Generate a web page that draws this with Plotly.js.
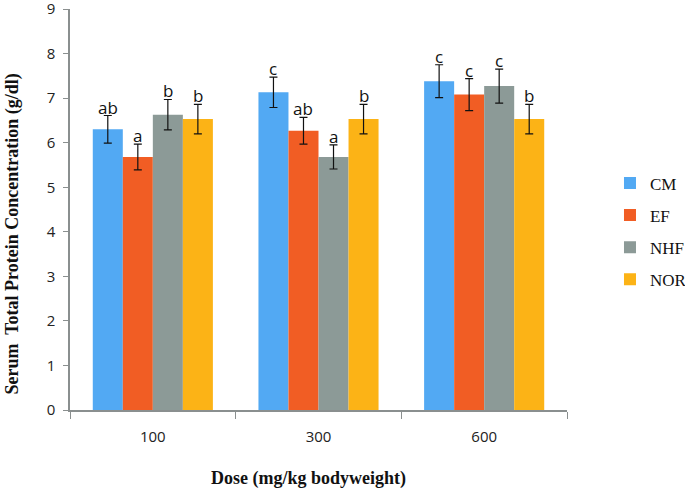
<!DOCTYPE html>
<html><head><meta charset="utf-8">
<script src="https://cdn.plot.ly/plotly-3.0.1.min.js"></script>
<style>html,body{margin:0;padding:0;background:#fff}#c{width:685px;height:488px}</style>
</head><body><div id="c"></div>
<script>
const doses = ['100', '300', '600'];
const seriesNames = ['CM', 'EF', 'NHF', 'NOR'];
const CM  = [6.3, 7.13, 7.38];
const EF  = [5.68, 6.27, 7.08];
const NHF = [6.63, 5.68, 7.27];
const NOR = [6.53, 6.53, 6.53];
const CM_err  = [0.31, 0.34, 0.37];
const EF_err  = [0.29, 0.3, 0.36];
const NHF_err = [0.34, 0.27, 0.38];
const NOR_err = [0.33, 0.33, 0.33];
const CM_lbl  = ['ab', 'c', 'c'];
const EF_lbl  = ['a', 'ab', 'c'];
const NHF_lbl = ['b', 'a', 'c'];
const NOR_lbl = ['b', 'b', 'b'];
const colors = ['#52A9F3', '#F15D24', '#8C9A97', '#FCB316'];

const vals = [CM, EF, NHF, NOR];
const errs = [CM_err, EF_err, NHF_err, NOR_err];
const lbls = [CM_lbl, EF_lbl, NHF_lbl, NOR_lbl];

const bargap = 0.275;
const traces = seriesNames.map((n, i) => ({
  type: 'bar', name: n, x: doses, y: vals[i],
  marker: {color: colors[i]},
  legendgroup: n,
  error_y: {type: 'data', array: errs[i], visible: true, color: '#111', thickness: 1.2, width: 4}
}));

const annotations = [];
const bw = (1 - bargap) / seriesNames.length;
seriesNames.forEach((n, i) => {
  doses.forEach((d, j) => {
    annotations.push({
      x: j - (1 - bargap) / 2 + bw * (i + 0.5), xref: 'x',
      y: vals[i][j] + errs[i][j], yref: 'y',
      text: lbls[i][j], showarrow: false, yanchor: 'bottom', yshift: -5,
      font: {family: 'Open Sans, sans-serif', size: 17, color: '#111'}
    });
  });
});
annotations.push({
  text: '<b>Serum  Total Protein Concentration (g/dl)</b>', textangle: -90,
  xref: 'paper', yref: 'paper', x: -0.115, y: 0.44, xanchor: 'center', yanchor: 'middle',
  showarrow: false, font: {family: 'Liberation Serif, serif', size: 18, color: '#111'}
});
annotations.push({
  text: '<b>Dose (mg/kg bodyweight)</b>',
  xref: 'paper', yref: 'paper', x: 0.48, y: -0.17, xanchor: 'center', yanchor: 'middle',
  showarrow: false, font: {family: 'Liberation Serif, serif', size: 18, color: '#111'}
});

const layout = {
  width: 685, height: 488,
  margin: {l: 70, r: 118, t: 9, b: 78, autoexpand: false},
  paper_bgcolor: '#fff', plot_bgcolor: '#fff',
  barmode: 'group', bargap: bargap, bargroupgap: 0,
  showlegend: true,
  legend: {x: 1.0865, y: 0.61, xanchor: 'left', yanchor: 'top',
    tracegroupgap: 7, itemwidth: 30,
    font: {family: 'Liberation Serif, serif', size: 17, color: '#111'}},
  xaxis: {type: 'category', showline: true, linecolor: '#8a8f8f', linewidth: 1.5,
    ticks: 'outside', tickson: 'boundaries', ticklen: 7, tickcolor: '#8a8f8f',
    ticklabelstandoff: 12,
    tickfont: {family: 'Open Sans, sans-serif', size: 15, color: '#222'}, showgrid: false},
  yaxis: {range: [0, 9.001], tick0: 0, dtick: 1, showline: true, linecolor: '#8a8f8f', linewidth: 1.5,
    ticks: 'outside', ticklen: 5, tickcolor: '#8a8f8f', showgrid: false, zeroline: false,
    ticklabelstandoff: 5, ticklabeloverflow: 'allow',
    tickfont: {family: 'Open Sans, sans-serif', size: 15, color: '#222'}},
  annotations: annotations
};
Plotly.newPlot('c', traces, layout, {displayModeBar: false});
</script></body></html>
